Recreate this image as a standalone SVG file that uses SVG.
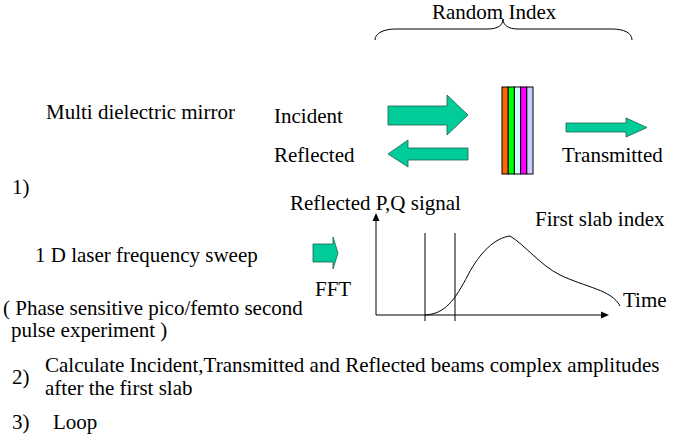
<svg xmlns="http://www.w3.org/2000/svg" width="675" height="439" viewBox="0 0 675 439">
<rect width="675" height="439" fill="#fff"/>
<g id="brace">
<path fill="none" stroke="#000" stroke-width="1" d="M375,40 C375,33 384,29 396,29 L488,29 C498,29 503,25 503,19 C503,25 508,29 518,29 L612,29 C624,29 632,33 632,40"/>
<text x="432" y="19" font-family="Times New Roman" font-size="21" style="font-family:'Liberation Serif','Times New Roman',serif;font-size:21px">Random Index</text>
</g>
<g id="title"><text x="46" y="119" font-family="Times New Roman" font-size="21" style="font-family:'Liberation Serif','Times New Roman',serif;font-size:21px">Multi dielectric mirror</text></g>
<g id="incident">
<path fill="#00CC99" stroke="#1f5f4c" stroke-width="0.8" d="M388,106 L447,106 L447,95 L468,115 L447,135 L447,125 L388,125 Z"/>
<text x="274" y="123" font-family="Times New Roman" font-size="21" style="font-family:'Liberation Serif','Times New Roman',serif;font-size:21px">Incident</text>
</g>
<g id="reflected">
<path fill="#00CC99" stroke="#1f5f4c" stroke-width="0.8" d="M468,148 L408,148 L408,140 L388,154 L408,167 L408,160 L468,160 Z"/>
<text x="274" y="162" font-family="Times New Roman" font-size="21" style="font-family:'Liberation Serif','Times New Roman',serif;font-size:21px">Reflected</text>
</g>
<g id="mirror" stroke="#000" stroke-width="1">
<rect x="502" y="87" width="6.2" height="87" fill="#FF6600"/>
<rect x="508.2" y="87" width="6.2" height="87" fill="#00FF00"/>
<rect x="514.4" y="87" width="6.2" height="87" fill="#CCFFFF"/>
<rect x="520.6" y="87" width="6.2" height="87" fill="#FF00FF"/>
<rect x="526.8" y="87" width="6.2" height="87" fill="#CCCCFF"/>
</g>
<g id="transmitted">
<path fill="#00CC99" stroke="#1f5f4c" stroke-width="0.8" d="M566,123 L626,123 L626,118 L647,127.5 L626,137 L626,132 L566,132 Z"/>
<text x="562" y="162" font-family="Times New Roman" font-size="21" style="font-family:'Liberation Serif','Times New Roman',serif;font-size:21px">Transmitted</text>
</g>
<g id="step1">
<text x="12" y="194" font-family="Times New Roman" font-size="21" style="font-family:'Liberation Serif','Times New Roman',serif;font-size:21px">1)</text>
<text x="35" y="262" font-family="Times New Roman" font-size="21" style="font-family:'Liberation Serif','Times New Roman',serif;font-size:21px">1 D laser frequency sweep</text>
<text x="3" y="315" font-family="Times New Roman" font-size="21" style="font-family:'Liberation Serif','Times New Roman',serif;font-size:21px">( Phase sensitive pico/femto second</text>
<text x="11" y="337" font-family="Times New Roman" font-size="21" style="font-family:'Liberation Serif','Times New Roman',serif;font-size:21px">pulse experiment )</text>
</g>
<g id="fft">
<path fill="#00CC99" stroke="#1f5f4c" stroke-width="0.8" d="M313,244 L333,244 L333,237 L338,253 L333,269 L333,262 L313,262 Z"/>
<text x="315" y="296" font-family="Times New Roman" font-size="21" style="font-family:'Liberation Serif','Times New Roman',serif;font-size:21px">FFT</text>
</g>
<g id="graph" fill="none" stroke="#000" stroke-width="1">
<line x1="376" y1="315" x2="376" y2="220"/>
<line x1="376" y1="315" x2="602" y2="315"/>
<path d="M376,213 L379.5,221 L372.5,221 Z" fill="#000" stroke="none"/>
<path d="M609,315 L601,318.5 L601,311.5 Z" fill="#000" stroke="none"/>
<line x1="425" y1="233" x2="425" y2="321"/>
<line x1="455" y1="233" x2="455" y2="321"/>
<path d="M425,315 C445,314 455,300 468,275 C480,252 495,238 510,236 C525,245 540,265 560,275 C585,287 612,290 620,306"/>
</g>
<g id="graph-labels">
<text x="290" y="210" font-family="Times New Roman" font-size="21" style="font-family:'Liberation Serif','Times New Roman',serif;font-size:21px">Reflected P,Q signal</text>
<text x="535" y="226" font-family="Times New Roman" font-size="21" style="font-family:'Liberation Serif','Times New Roman',serif;font-size:21px">First slab index</text>
<text x="623" y="307" font-family="Times New Roman" font-size="21" style="font-family:'Liberation Serif','Times New Roman',serif;font-size:21px">Time</text>
</g>
<g id="step2">
<text x="12" y="384" font-family="Times New Roman" font-size="21" style="font-family:'Liberation Serif','Times New Roman',serif;font-size:21px">2)</text>
<text x="45" y="372" font-family="Times New Roman" font-size="21" style="font-family:'Liberation Serif','Times New Roman',serif;font-size:21px">Calculate Incident,Transmitted and Reflected beams complex amplitudes</text>
<text x="45" y="395" font-family="Times New Roman" font-size="21" style="font-family:'Liberation Serif','Times New Roman',serif;font-size:21px">after the first slab</text>
</g>
<g id="step3">
<text x="12" y="429" font-family="Times New Roman" font-size="21" style="font-family:'Liberation Serif','Times New Roman',serif;font-size:21px">3)</text>
<text x="53" y="429" font-family="Times New Roman" font-size="21" style="font-family:'Liberation Serif','Times New Roman',serif;font-size:21px">Loop</text>
</g>
</svg>
